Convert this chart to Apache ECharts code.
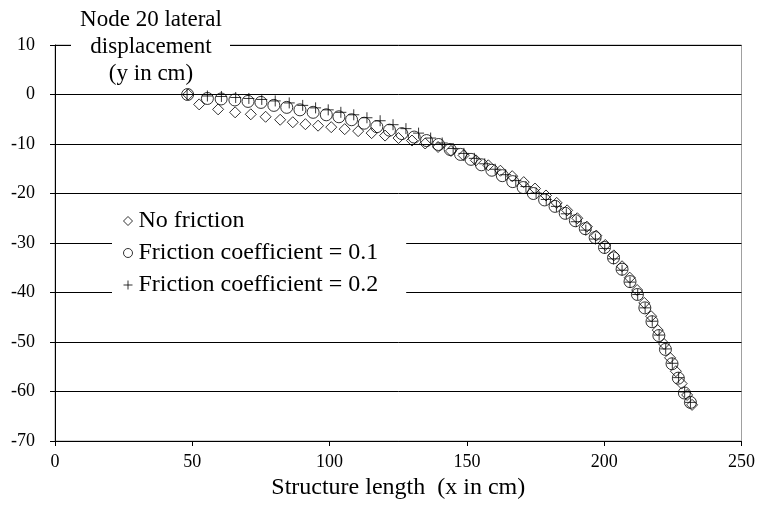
<!DOCTYPE html>
<html>
<head>
<meta charset="utf-8">
<script src="https://cdn.jsdelivr.net/npm/echarts@6/dist/echarts.min.js"></script>
<style>
html,body{margin:0;padding:0;background:#fff;}
#chart{width:758px;height:505px;}
</style>
</head>
<body>
<div id="chart"></div>
<script>
var seriesNames = ['No friction', 'Friction coefficient = 0.1', 'Friction coefficient = 0.2'];
var yTitleLines = ['Node 20 lateral', 'displacement', '(y in cm)'];
var xTitle = 'Structure length  (x in cm)';

var noFrictionX = [48.5, 52.5, 59.4, 65.6, 71.3, 76.7, 82, 86.6, 91.2, 95.8, 100.6, 105.5, 110.4, 115.3, 120.2, 125.1, 130, 134.8, 139.5, 144.2, 148.8, 153.3, 157.8, 162.2, 166.5, 170.7, 174.8, 178.8, 182.7, 186.5, 190.2, 193.7, 197.1, 200.4, 203.5, 206.5, 209.3, 212, 214.6, 217.1, 219.5, 221.8, 224, 226.1, 228.2, 230.2, 232];
var noFrictionY = [0, -2, -3, -3.6, -4, -4.5, -5.1, -5.6, -6, -6.3, -6.6, -7, -7.4, -7.8, -8.3, -8.8, -9.3, -9.9, -10.6, -11.4, -12.3, -13.3, -14.3, -15.4, -16.5, -17.7, -19, -20.4, -21.9, -23.4, -25, -26.7, -28.5, -30.4, -32.5, -34.7, -37, -39.5, -42.1, -44.8, -47.6, -50.4, -53.2, -55.9, -58.4, -60.7, -62.7];

var friction01X = [48.3, 55.5, 60.5, 65.5, 70.3, 75, 79.7, 84.4, 89.2, 94, 98.8, 103.4, 108, 112.6, 117.2, 121.8, 126.3, 130.8, 135.3, 139.7, 143.9, 147.7, 151.5, 155.3, 159.1, 162.9, 166.7, 170.5, 174.2, 178.3, 182.1, 185.8, 189.5, 193.1, 196.7, 200.1, 203.4, 206.5, 209.4, 212.1, 214.8, 217.4, 219.9, 222.3, 224.7, 227, 229.2, 231.4];
var friction01Y = [0, -0.8, -0.9, -1.1, -1.4, -1.6, -2.2, -2.6, -3.1, -3.6, -4.1, -4.5, -5.1, -5.8, -6.5, -7.2, -7.9, -8.6, -9.3, -10.1, -11.1, -12.1, -13.1, -14.2, -15.3, -16.4, -17.6, -18.8, -20, -21.3, -22.6, -24, -25.5, -27.1, -28.9, -30.9, -33, -35.3, -37.8, -40.4, -43.1, -45.9, -48.7, -51.5, -54.4, -57.3, -60.3, -62.2];

var friction02X = [48.1, 55.5, 60.6, 65.8, 70.6, 75.3, 80.2, 85.3, 90.2, 94.9, 99.5, 104.1, 108.8, 113.6, 118.4, 123.1, 127.8, 132.4, 136.8, 141, 145, 148.9, 152.7, 156.5, 160.3, 164.1, 167.8, 171.5, 175.2, 178.9, 182.6, 186.2, 189.8, 193.3, 196.8, 200.2, 203.4, 206.5, 209.4, 212.2, 214.9, 217.5, 220, 222.4, 224.8, 227.1, 229.3, 231.4];
var friction02Y = [0, -0.3, -0.4, -0.6, -0.8, -1, -1.3, -1.7, -2.2, -2.7, -3.1, -3.6, -4.1, -4.7, -5.3, -6.1, -6.9, -7.8, -8.8, -9.8, -10.9, -11.9, -12.9, -14, -15.1, -16.2, -17.4, -18.6, -19.9, -21.2, -22.6, -24.1, -25.7, -27.4, -29.2, -31.1, -33.2, -35.5, -37.9, -40.4, -43.1, -45.8, -48.6, -51.4, -54.3, -57.2, -60.1, -62.2];

var xTicks = [0, 50, 100, 150, 200, 250];
var yTicks = [-70, -60, -50, -40, -30, -20, -10, 0, 10];

function pairs(xs, ys) {
  var out = [];
  for (var i = 0; i < xs.length; i++) out.push([xs[i], ys[i]]);
  return out;
}

var FONT = 'Liberation Serif';
var plusPath = 'path://M0,6L12,6M6,0L6,12';
var hollow = {color: 'rgba(0,0,0,0)', borderColor: '#000', borderWidth: 1};
var titleFont = '23px "Liberation Serif"';

var chart = echarts.init(document.getElementById('chart'), null, {renderer: 'canvas'});
chart.setOption({
  animation: false,
  backgroundColor: '#fff',
  textStyle: {fontFamily: FONT},
  grid: {left: 55, right: 13, top: 45, bottom: 60, show: true, borderColor: '#a0a0a0', borderWidth: 1, backgroundColor: 'rgba(0,0,0,0)'},
  graphic: [
    {type: 'rect', z: 100, shape: {x: 71, y: 34, width: 159, height: 22}, style: {fill: '#fff'}},
    {type: 'text', z: 101, x: 151, y: 20, style: {text: yTitleLines[0], font: titleFont, fill: '#000', align: 'center', verticalAlign: 'middle'}},
    {type: 'text', z: 101, x: 151, y: 47, style: {text: yTitleLines[1], font: titleFont, fill: '#000', align: 'center', verticalAlign: 'middle'}},
    {type: 'text', z: 101, x: 151, y: 74, style: {text: yTitleLines[2], font: titleFont, fill: '#000', align: 'center', verticalAlign: 'middle'}}
  ],
  legend: {
    orient: 'vertical',
    left: 112, top: 202,
    backgroundColor: '#fff',
    padding: [6, 28, 6, 11],
    itemGap: 6,
    itemWidth: 9, itemHeight: 9,
    textStyle: {fontFamily: FONT, fontSize: 24, lineHeight: 26, color: '#000', padding: [0, 0, 0, 1]},
    data: [
      {name: seriesNames[0], icon: 'diamond', itemStyle: hollow},
      {name: seriesNames[1], icon: 'circle', itemStyle: hollow},
      {name: seriesNames[2], icon: plusPath, itemStyle: hollow}
    ]
  },
  xAxis: {
    type: 'value', min: 0, max: 250, interval: 50,
    name: xTitle, nameLocation: 'middle', nameGap: 35,
    nameTextStyle: {fontFamily: FONT, fontSize: 24, color: '#000'},
    axisLine: {onZero: false, lineStyle: {color: '#000', width: 1}},
    axisTick: {show: true, inside: false, length: 5, lineStyle: {color: '#000'}},
    axisLabel: {fontFamily: FONT, fontSize: 18, color: '#000', margin: 12,
      formatter: function (v) { return xTicks.indexOf(v) >= 0 ? String(v) : ''; }},
    splitLine: {show: false}
  },
  yAxis: {
    type: 'value', min: -70, max: 10, interval: 10,
    axisLine: {show: true, onZero: false, lineStyle: {color: '#000', width: 1}},
    axisTick: {show: true, inside: false, length: 5, lineStyle: {color: '#000'}},
    axisLabel: {fontFamily: FONT, fontSize: 18, color: '#000', margin: 20,
      formatter: function (v) { return yTicks.indexOf(v) >= 0 ? String(v) : ''; }},
    splitLine: {show: true, lineStyle: {color: '#000', width: 1}}
  },
  series: [
    {name: seriesNames[0], type: 'scatter', symbol: 'diamond', symbolSize: 11, itemStyle: hollow, data: pairs(noFrictionX, noFrictionY), z: 3},
    {name: seriesNames[1], type: 'scatter', symbol: 'circle', symbolSize: 12, itemStyle: hollow, data: pairs(friction01X, friction01Y), z: 4},
    {name: seriesNames[2], type: 'scatter', symbol: plusPath, symbolSize: 11, itemStyle: hollow, data: pairs(friction02X, friction02Y), z: 5}
  ]
});
</script>
</body>
</html>
